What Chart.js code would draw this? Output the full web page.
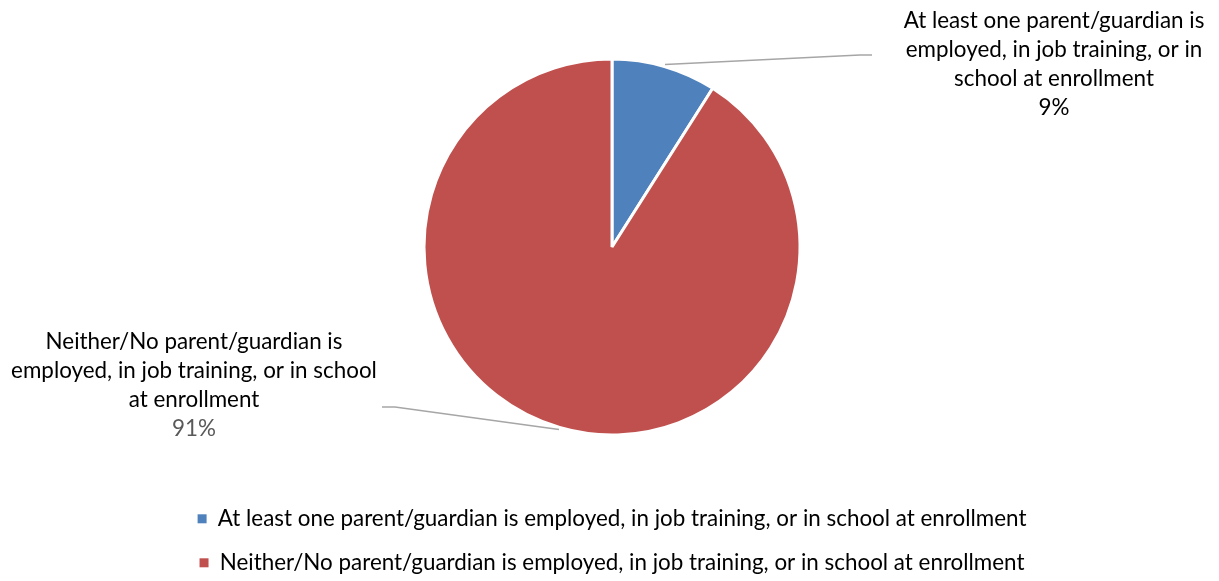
<!DOCTYPE html>
<html>
<head>
<meta charset="utf-8">
<script src="https://cdn.jsdelivr.net/npm/chart.js@4.4.1/dist/chart.umd.min.js"></script>
<style>
  html, body { margin: 0; padding: 0; background: #fff; overflow: hidden; }
  #wrap { position: relative; width: 1219px; height: 584px; }
</style>
</head>
<body>
<div id="wrap"><canvas id="pieChart"></canvas></div>
<script>
const categories = [
    'At least one parent/guardian is employed, in job training, or in school at enrollment',
    'Neither/No parent/guardian is employed, in job training, or in school at enrollment'
];
const shares = [9, 91];
const sliceColors = ['#4F81BD', '#C0504D'];

// wrapped text for the callout labels next to the pie
const calloutLines = [
    ['At least one parent/guardian is', 'employed, in job training, or in', 'school at enrollment'],
    ['Neither/No parent/guardian is', 'employed, in job training, or in school', 'at enrollment']
];

const FONT = 'Lato, "Open Sans", sans-serif';
const FONT_SIZE = 22.4;

// callout placement, relative to the pie centre
const callouts = [
    { dx: 442, dy: -227, elbow: [248, -192], end: [260, -192], pctColor: '#000000' },
    { dx: -418, dy: 94, elbow: [-217, 160], end: [-230, 160], pctColor: '#595959' }
];

const calloutPlugin = {
    id: 'callouts',
    afterDraw(chart) {
        const ctx = chart.ctx;
        const meta = chart.getDatasetMeta(0);
        const total = shares.reduce((a, b) => a + b, 0);
        meta.data.forEach((arc, i) => {
            const c = callouts[i];
            const mid = (arc.startAngle + arc.endAngle) / 2;
            const sx = arc.x + Math.cos(mid) * (arc.outerRadius + 2);
            const sy = arc.y + Math.sin(mid) * (arc.outerRadius + 2);

            ctx.save();
            ctx.strokeStyle = '#A6A6A6';
            ctx.lineWidth = 1.5;
            ctx.beginPath();
            ctx.moveTo(sx, sy);
            ctx.lineTo(arc.x + c.elbow[0], arc.y + c.elbow[1]);
            ctx.lineTo(arc.x + c.end[0], arc.y + c.end[1]);
            ctx.stroke();

            ctx.font = FONT_SIZE + 'px ' + FONT;
            ctx.textAlign = 'center';
            ctx.textBaseline = 'middle';
            const lx = arc.x + c.dx;
            let ly = arc.y + c.dy + 1;
            ctx.fillStyle = '#000000';
            calloutLines[i].forEach(line => {
                ctx.fillText(line, lx, ly);
                ly += 29;
            });
            ctx.fillStyle = c.pctColor;
            ctx.fillText(Math.round(shares[i] / total * 100) + '%', lx, ly);
            ctx.restore();
        });
    }
};

new Chart(document.getElementById('pieChart').getContext('2d'), {
    type: 'pie',
    data: {
        labels: categories,
        datasets: [{
            data: shares,
            backgroundColor: sliceColors,
            borderColor: '#FFFFFF',
            borderWidth: 3
        }]
    },
    options: {
        responsive: true,
        maintainAspectRatio: false,
        animation: false,
        radius: 188,
        layout: { padding: { top: 8, left: 5, right: 0, bottom: 0 } },
        plugins: {
            tooltip: { enabled: false },
            legend: {
                position: 'bottom',
                labels: {
                    boxWidth: 9,
                    boxHeight: 9,
                    padding: 21.6,
                    color: '#000000',
                    font: { family: FONT, size: FONT_SIZE },
                    generateLabels(chart) {
                        return Chart.overrides.pie.plugins.legend.labels.generateLabels(chart)
                            .map(item => Object.assign(item, { lineWidth: 0 }));
                    }
                }
            }
        }
    },
    plugins: [calloutPlugin]
});
</script>
</body>
</html>
